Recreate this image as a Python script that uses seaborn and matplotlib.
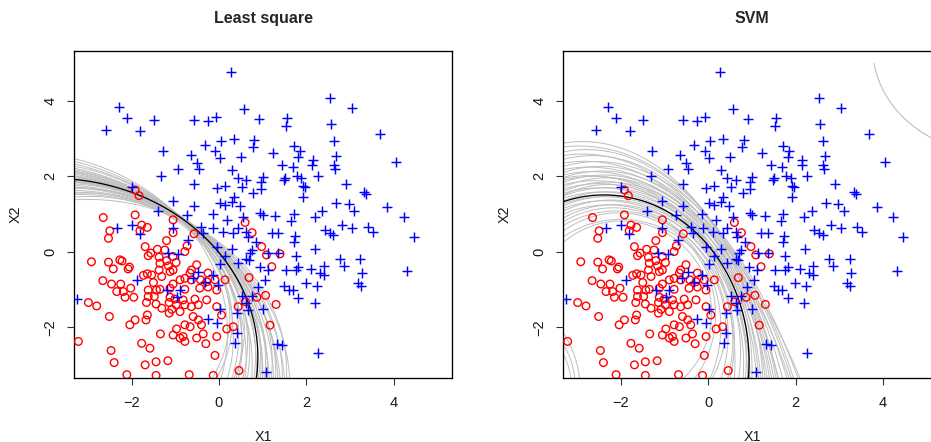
import numpy as np
import pandas as pd
import matplotlib
matplotlib.use("Agg")
import matplotlib.pyplot as plt
import seaborn as sns

# ---------------- data ----------------
blue_x1 = [0.28,-2.30,-2.11,-1.49,-2.58,-1.80,-0.58,-0.26,-0.07,0.57,
           0.34,0.04,-0.33,-0.08,-1.29,-0.64,0.02,0.50,-0.51,-0.46,
           -0.93,-1.32,0.29,0.44,0.63,-0.57,-0.05,0.13,0.53,0.34,
           -1.99,-1.06,-0.57,0.02,0.14,0.29,0.48,-1.40,-0.74,-0.14,
           0.56,
           2.54,3.04,0.91,1.55,1.53,2.56,3.68,0.81,0.77,2.64,
           1.24,1.72,1.86,1.82,2.68,2.15,2.14,2.64,2.66,4.06,
           1.44,1.69,1.01,0.96,1.51,1.49,1.78,1.89,2.27,0.96,
           0.79,1.93,1.97,1.92,2.91,3.33,3.38,2.69,2.98,3.10,
           3.86,0.95,1.01,1.29,1.72,2.20,2.37,4.24,
           1.66,4.47,2.81,3.04,2.43,2.54,2.62,3.42,3.52,1.21,
           1.36,1.74,1.72,0.66,0.85,0.75,0.71,0.69,1.13,1.36,
           1.76,2.21,2.77,2.87,3.24,0.94,1.12,1.53,1.76,1.82,
           2.10,2.40,2.31,2.41,3.28,4.32,1.05,0.90,1.50,1.61,
           1.70,1.82,1.99,2.24,3.19,3.25,0.76,1.01,0.66,2.20,
           1.32,1.44,2.27,1.09,
           0.18,-2.34,-2.00,-1.81,-1.05,-0.70,-0.40,-0.36,-0.13,0.10,
           0.33,0.43,0.63,-1.16,-0.93,-0.05,0.29,0.14,0.02,0.44,
           0.63,-1.88,-0.59,-0.47,-0.32,-0.14,-0.02,-1.20,-0.89,-0.97,
           0.52,0.63,-3.26,0.02,-0.25,-0.05,0.41,0.37,0.41]
blue_x2 = [4.76,3.84,3.54,3.48,3.22,3.20,3.48,3.47,3.58,3.78,
           3.00,2.93,2.83,2.67,2.67,2.57,2.48,2.52,2.35,2.20,
           2.20,2.01,2.17,1.95,1.90,1.81,1.70,1.75,1.73,1.46,
           1.73,1.36,1.22,1.29,1.24,1.33,1.22,1.08,0.98,1.01,
           0.93,
           4.08,3.82,3.51,3.54,3.33,3.39,3.12,2.96,2.79,2.93,
           2.62,2.80,2.68,2.52,2.54,2.43,2.30,2.30,2.20,2.38,
           2.29,2.26,1.99,1.86,1.96,1.90,2.02,1.97,2.01,1.66,
           1.57,1.75,1.71,1.46,1.80,1.59,1.53,1.29,1.27,1.09,
           1.20,1.02,0.97,0.95,1.01,0.93,1.08,0.92,
           0.82,0.40,0.71,0.63,0.58,0.49,0.45,0.67,0.52,0.51,
           0.51,0.42,0.26,0.40,0.26,0.05,-0.02,-0.21,-0.03,-0.02,
           -0.12,0.07,-0.18,-0.37,-0.19,-0.39,-0.49,-0.49,-0.48,-0.39,
           -0.46,-0.37,-0.56,-0.61,-0.55,-0.50,-0.74,-0.92,-0.90,-1.02,
           -1.02,-1.22,-0.81,-0.90,-0.81,-0.90,-1.18,-1.52,-1.55,-1.36,
           -2.43,-2.46,-2.68,-3.17,
           0.85,0.63,0.70,0.48,0.63,0.32,0.67,0.49,0.63,0.54,
           0.49,0.63,0.54,-0.02,-0.06,0.14,0.07,-0.12,-0.33,-0.30,
           -0.19,-0.74,-0.70,-0.52,-0.79,-0.61,-0.87,-1.01,-1.02,-1.20,
           -1.18,-1.36,-1.25,-1.52,-1.78,-1.89,-2.15,-2.42,-1.61]

red_x1 = [-1.92,-1.83,-2.65,-1.92,-1.05,0.60,0.76,0.98,1.09,1.40,
          1.21,0.69,0.87,1.07,1.31,0.61,1.17,
          -2.50,-2.53,-1.77,-1.64,-1.81,-1.05,-0.57,-1.20,-1.69,-1.41,
          -1.56,-1.62,-1.24,-0.73,-0.78,-1.05,-1.37,-1.20,-0.98,-2.92,
          -2.53,-2.27,-2.22,-2.42,-2.05,-2.08,-1.35,-1.16,-1.37,-1.12,
          -1.05,-1.73,-1.64,-1.54,-1.31,-0.66,-0.51,-0.63,-0.25,-2.66,
          -2.46,-2.25,-1.50,-0.89,-0.78,-1.05,-0.63,-0.42,-0.28,-0.09,
          0.14,-2.34,-2.19,-2.02,-1.62,-1.43,-1.35,-1.12,-0.78,-0.44,
          -0.25,-0.05,-2.99,-2.80,-2.15,-1.95,-1.62,-1.48,-1.12,-1.01,
          -0.82,-0.55,-0.28,-1.66,-1.44,-1.31,-1.14,-1.08,-0.98,-0.78,
          -0.63,-0.47,-0.05,0.06,-2.51,-1.64,-1.14,-0.89,-0.59,-0.47,
          -1.67,-1.92,-2.04,-0.78,-0.66,-0.97,-0.40,0.18,0.33,-1.34,
          -1.05,-0.82,-0.89,-0.36,-0.05,-0.51,-0.78,-3.22,-1.77,-1.58,
          -0.30,-2.47,-0.09,-2.40,-1.69,-1.44,-1.17,-2.11,-1.44,-0.68,
          -0.13,0.44,0.46]
red_x2 = [1.64,1.49,0.91,0.98,0.85,0.78,0.51,0.14,-0.08,-0.05,
          -0.39,-0.68,-1.20,-1.15,-1.39,-1.32,-1.94,
          0.56,0.36,0.71,0.65,0.56,0.51,0.48,0.30,0.14,0.07,
          -0.03,-0.10,0.05,0.16,0.01,-0.12,-0.14,-0.23,-0.28,-0.26,
          -0.27,-0.21,-0.24,-0.45,-0.40,-0.45,-0.30,-0.37,-0.48,-0.52,
          -0.48,-0.62,-0.58,-0.61,-0.65,-0.56,-0.34,-0.48,-0.56,-0.76,
          -0.85,-0.85,-0.81,-0.74,-0.70,-0.85,-0.74,-0.74,-0.79,-0.74,
          -0.74,-1.05,-1.05,-0.96,-1.01,-1.01,-0.99,-0.96,-0.99,-0.96,
          -0.93,-1.01,-1.34,-1.43,-1.20,-1.20,-1.18,-1.18,-1.20,-1.25,
          -1.27,-1.25,-1.27,-1.34,-1.38,-1.49,-1.34,-1.52,-1.40,-1.40,
          -1.45,-1.40,-1.45,-1.67,-1.71,-1.67,-1.62,-1.58,-1.71,-1.80,
          -1.80,-1.80,-1.93,-1.93,-1.98,-2.04,-1.93,-2.04,-1.98,-2.17,
          -2.20,-2.24,-2.28,-2.17,-2.24,-2.28,-2.37,-2.37,-2.42,-2.55,
          -2.43,-2.61,-2.74,-2.93,-2.99,-2.91,-2.88,-3.25,-3.27,-3.25,
          -3.27,-1.45,-3.14]

# decision boundaries, read as crossing points
EDGE_X, BOTTOM_Y = -3.32, -3.33
# least squares: y at left edge, x at X2 = 0.5, x at bottom edge
ls_black = (1.92, -0.43, 0.86)
ls_gray_left_y = [1.38,1.45,1.52,1.58,1.63,1.68,1.72,1.76,1.80,1.84,1.87,1.90,1.93,1.96,1.99,
                  2.02,2.06,2.10,2.14,2.18,2.22,2.27,2.33,2.40,2.47,1.70,1.85,2.00,2.12,1.55]
ls_gray_mid_x = [-0.30,-0.52,-0.38,-0.45,-0.33,-0.58,-0.42,-0.36,-0.50,-0.40,-0.47,-0.34,-0.55,-0.43,-0.39,
                 -0.49,-0.44,-0.37,-0.53,-0.46,-0.41,-0.57,-0.48,-0.51,-0.60,-0.31,-0.56,-0.35,-0.44,-0.62]
ls_gray_bottom_x = [1.55,0.35,1.20,0.90,1.45,-0.15,1.05,1.30,0.55,1.10,0.80,1.50,0.30,0.95,1.25,
                    0.65,1.00,1.40,0.45,0.85,1.15,0.20,0.75,0.60,0.05,1.62,0.40,1.35,1.00,-0.05]
# SVM: y at left edge, y at X1 = -1.5, x at X2 = -0.5, x at bottom edge
svm_black = (1.33, 1.35, 0.40, 0.92)
svm_gray_left_y = [0.25,0.40,0.55,0.70,0.80,0.90,1.00,1.08,1.15,1.22,1.28,1.35,1.42,1.48,1.55,1.60,1.66,
                   1.72,1.78,1.84,1.90,1.97,2.04,2.10,2.18,2.26,2.35,2.45,2.55,2.65,2.78,2.88,1.50,1.95]
svm_gray_y_m15 = [0.75,0.80,0.95,1.00,1.05,1.15,1.10,1.25,1.20,1.35,1.30,1.45,1.40,1.55,1.50,1.70,1.60,
                  1.80,1.65,1.85,1.75,1.95,1.85,2.05,1.95,2.15,2.05,2.25,2.20,2.35,2.40,2.50,1.60,1.70]
svm_gray_x_m05 = [-0.15,0.05,-0.05,0.15,0.00,0.25,0.10,0.30,0.20,0.45,0.35,0.50,0.30,0.60,0.40,0.70,0.45,
                  0.80,0.55,0.65,0.50,0.85,0.60,0.75,0.70,0.90,0.55,0.80,0.65,0.85,0.70,0.75,0.20,0.35]
svm_gray_bottom_x = [-0.55,0.10,-0.30,0.45,0.05,0.80,0.30,0.95,0.50,1.20,0.85,1.35,0.70,1.60,0.95,1.85,1.10,
                     2.10,1.30,1.50,1.00,1.95,1.40,1.70,1.55,2.05,1.15,1.80,1.45,1.90,1.25,1.60,0.60,0.90]
svm_corner_left_y = [-2.15,-2.45,-2.70]
svm_corner_mid = [(-3.08,-2.70),(-3.14,-2.90),(-3.20,-3.05)]
svm_corner_bottom_x = [-2.95,-3.06,-3.15]
svm_far_arc = [(3.80,4.99),(4.31,3.76),(4.99,3.10)]

# ---------------- helpers ----------------
def conic(points, circle):
    P = np.asarray(points, float)
    x, y = P[:, 0], P[:, 1]
    if circle:
        M = np.column_stack([x**2 + y**2, x, y, np.ones_like(x)])
        c = np.linalg.svd(M)[2][-1]
        return lambda X, Y: c[0]*(X**2 + Y**2) + c[1]*X + c[2]*Y + c[3]
    M = np.column_stack([x**2, y**2, x, y, np.ones_like(x)])
    c = np.linalg.svd(M)[2][-1]
    return lambda X, Y: c[0]*X**2 + c[1]*Y**2 + c[2]*X + c[3]*Y + c[4]

gx = np.linspace(-3.45, 5.45, 700)
gy = np.linspace(-3.45, 5.0, 700)
GX, GY = np.meshgrid(gx, gy)

def draw(ax, f, color, lw, z):
    ax.contour(GX, GY, f(GX, GY), levels=[0], colors=[color], linewidths=lw, zorder=z)

GRAY = "#BEBEBE"
sns.set_style("ticks")
plt.rcParams["font.family"] = ["Liberation Sans", "DejaVu Sans"]

fig = plt.figure(figsize=(9.31, 4.42), dpi=100)
W, H = 931.0, 442.0
axw, axh = 378 / W, 326.7 / H
bottom = (H - 377.7) / H
ax1 = fig.add_axes([74 / W, bottom, axw, axh])
ax2 = fig.add_axes([563.3 / W, bottom, axw, axh])

# least squares boundaries
for yl, xm, xb in zip(ls_gray_left_y, ls_gray_mid_x, ls_gray_bottom_x):
    draw(ax1, conic([(EDGE_X, yl), (xm, 0.5), (xb, BOTTOM_Y)], True), GRAY, 0.7, 1)
yl, xm, xb = ls_black
draw(ax1, conic([(EDGE_X, yl), (xm, 0.5), (xb, BOTTOM_Y)], True), "black", 0.95, 2)

# SVM boundaries
for yl, ym, xm, xb in zip(svm_gray_left_y, svm_gray_y_m15, svm_gray_x_m05, svm_gray_bottom_x):
    draw(ax2, conic([(EDGE_X, yl), (-1.5, ym), (xm, -0.5), (xb, BOTTOM_Y)], False), GRAY, 0.7, 1)
for yl, mid, xb in zip(svm_corner_left_y, svm_corner_mid, svm_corner_bottom_x):
    draw(ax2, conic([(EDGE_X, yl), mid, (xb, BOTTOM_Y)], True), GRAY, 0.7, 1)
draw(ax2, conic(svm_far_arc, True), GRAY, 0.8, 1)
yl, ym, xm, xb = svm_black
draw(ax2, conic([(EDGE_X, yl), (-1.5, ym), (xm, -0.5), (xb, BOTTOM_Y)], False), "black", 0.95, 2)

for ax, title in [(ax1, "Least square"), (ax2, "SVM")]:
    sns.scatterplot(x=red_x1, y=red_x2, ax=ax, marker="o", s=30, facecolor="none",
                    edgecolor="#FF0000", linewidth=1.0, zorder=3, legend=False)
    sns.scatterplot(x=blue_x1, y=blue_x2, ax=ax, marker="+", s=52, color="#0000FF",
                    linewidth=1.05, zorder=4, legend=False)
    ax.set_xlim(-3.32, 5.34)
    ax.set_ylim(-3.33, 5.32)
    ax.set_xticks([-2, 0, 2, 4])
    ax.set_yticks([-2, 0, 2, 4])
    for sp in ax.spines.values():
        sp.set_visible(True)
        sp.set_color("black")
        sp.set_linewidth(0.95)
    ax.tick_params(axis="both", direction="out", length=5.0, width=0.8, color="#333333",
                   labelsize=10.5, labelcolor="#1a1a1a")
    ax.tick_params(axis="x", pad=8.5)
    ax.tick_params(axis="y", pad=7.0)
    plt.setp(ax.get_yticklabels(), rotation=90, va="center")
    ax.set_title(title, fontsize=11.5, fontweight="bold", pad=20)
    ax.set_xlabel("X1", fontsize=10.3, color="#1a1a1a")
    ax.set_ylabel("X2", fontsize=10.3, color="#1a1a1a")
    ax.xaxis.label.set_va("center")
    ax.yaxis.label.set_va("center")
    ax.xaxis.set_label_coords(0.5, -0.181)
    ax.yaxis.set_label_coords(-0.154, 0.5)
    ax.grid(False)

fig.savefig("out.png", dpi=100)
